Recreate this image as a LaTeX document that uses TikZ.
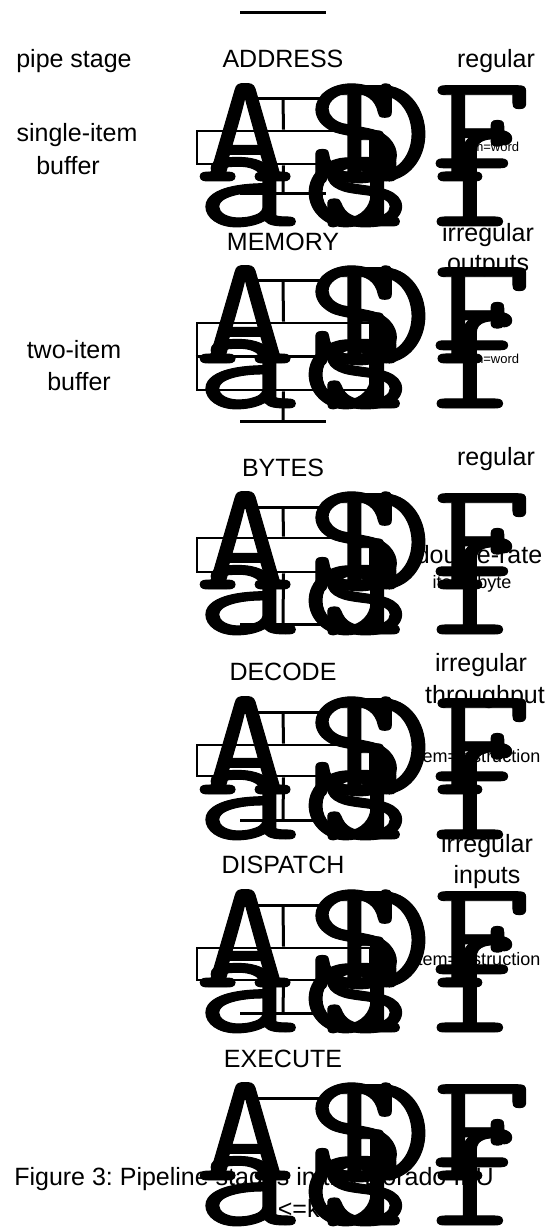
\documentclass[tikz,border=0pt]{standalone}
\usepackage{fontspec}
\usepackage{graphicx}
\newfontfamily\lsans{Liberation Sans}
\newfontfamily\typew[FakeBold=0.6]{Latin Modern Mono}
\newcommand\wide[1]{\scalebox{1.25}[1]{#1}}
\begin{document}
\begin{tikzpicture}[x=1pt,y=-1pt,
  lbl/.style={font=\lsans\frenchspacing\fontsize{25}{31}\selectfont, inner sep=0pt, anchor=base},
  small/.style={font=\lsans\fontsize{18}{22}\selectfont, inner sep=0pt, anchor=base},
  tiny/.style={font=\lsans\fontsize{13}{16}\selectfont, inner sep=0pt, anchor=base},
  big/.style={font=\typew\fontsize{156}{156}\selectfont, inner sep=0pt, outer sep=0pt, anchor=base west},
  latch/.style={fill=black, inner sep=0pt, minimum width=86pt, minimum height=3pt},
  buf/.style={draw, line width=2.8pt, inner sep=0pt, minimum width=173pt},
  wire/.style={line width=3pt}]
\useasboundingbox (0,0) rectangle (550,1230);

\newcommand\glyphrow[2]{%
  \node[big] (#1A) at (195,{#2+82}) {\wide{A}};
  \node[big] (#1S) at (306,{#2+82}) {\wide{S}};
  \node[big] (#1D) at (332,{#2+82}) {\wide{D}};
  \node[big] (#1F) at (432,{#2+82}) {\wide{F}};
  \node[big] (#1a) at (196,{#2+127}) {\wide{a}};
  \node[big] (#1s) at (314,{#2+127}) {\wide{s}};
  \node[big] (#1d) at (302,{#2+127}) {\wide{d}};
  \node[big] (#1f) at (428,{#2+127}) {\wide{f}};
}

% top line
\node[latch] (l0) at (283,13) {};

% stage 1 ADDRESS
\node[lbl] (pipe) at (74,68) {pipe stage};
\node[lbl] (s1) at (283,68) {ADDRESS};
\node[lbl] (r1) at (496,68) {regular};
\node[lbl] (si) at (77,142) {single-item};
\node[lbl] (sb) at (68,175) {buffer};
\node[latch] (l1t) at (283,99) {};
\node[buf, minimum height=33pt] (b1) at (283.5,147.5) {};
\node[latch] (l1b) at (283,194) {};
\draw[wire] (l1t.center) -- (b1.north);
\draw[wire] (b1.south) -- (l1b.center);
\node[tiny] (w1) at (489,152) {item=word};
\glyphrow{g1}{99}

% stage 2 MEMORY
\node[lbl] (s2) at (283,251) {MEMORY};
\node[lbl] (r2a) at (488,242) {irregular};
\node[lbl] (r2b) at (488,272) {outputs};
\node[lbl] (ti) at (74,358) {two-item};
\node[lbl] (tb) at (79,390) {buffer};
\node[latch] (l2t) at (283,281) {};
\node[buf, minimum height=67pt] (b2) at (283.5,356.5) {};
\draw[line width=2.8pt] (b2.west) -- (b2.east);
\node[latch] (l2b) at (283,421) {};
\draw[wire] (l2t.center) -- (b2.north);
\draw[wire] (b2.south) -- (l2b.center);
\node[tiny] (w2) at (489,363) {item=word};
\glyphrow{g2}{281}

% stage 3 BYTES
\node[lbl] (s3) at (283,476) {BYTES};
\node[lbl] (r3) at (496,465) {regular};
\node[latch] (l3t) at (283,507) {};
\node[buf, minimum height=34pt] (b3) at (283.5,555) {};
\node[latch] (l3b) at (283,624) {};
\draw[wire] (l3t.center) -- (b3.north);
\draw[wire] (b3.south) -- (l3b.center);
\node[lbl] (dr) at (479,563) {double-rate};
\node[small] (ib) at (472,588) {item=byte};
\glyphrow{g3}{507}

% stage 4 DECODE
\node[lbl] (s4) at (283,680) {DECODE};
\node[lbl] (r4a) at (481,671) {irregular};
\node[lbl] (r4b) at (485,703) {throughput};
\node[latch] (l4t) at (283,712) {};
\node[buf, minimum height=31pt] (b4) at (283.5,760.5) {};
\node[latch] (l4b) at (283,820) {};
\draw[wire] (l4t.center) -- (b4.north);
\draw[wire] (b4.south) -- (l4b.center);
\node[small] (ii4) at (477,762) {item=instruction};
\glyphrow{g4}{712}

% stage 5 DISPATCH
\node[lbl] (s5) at (283,873) {DISPATCH};
\node[lbl] (r5a) at (487,852) {irregular};
\node[lbl] (r5b) at (487,883) {inputs};
\node[latch] (l5t) at (283,905) {};
\node[buf, minimum height=32pt] (b5) at (283.5,964) {};
\node[latch] (l5b) at (283,1013) {};
\draw[wire] (l5t.center) -- (b5.north);
\draw[wire] (b5.south) -- (l5b.center);
\node[small] (ii5) at (477,965) {item=instruction};
\glyphrow{g5}{905}

% stage 6 EXECUTE
\node[lbl] (s6) at (283,1067) {EXECUTE};
\node[latch] (l6t) at (283,1098) {};
\glyphrow{g6}{1098}

\node[lbl] (cap) at (254,1185) {Figure 3: Pipeline stages in the Dorado IFU};
\node[lbl] (kk) at (306,1217) {<=k<};
\end{tikzpicture}
\end{document}
